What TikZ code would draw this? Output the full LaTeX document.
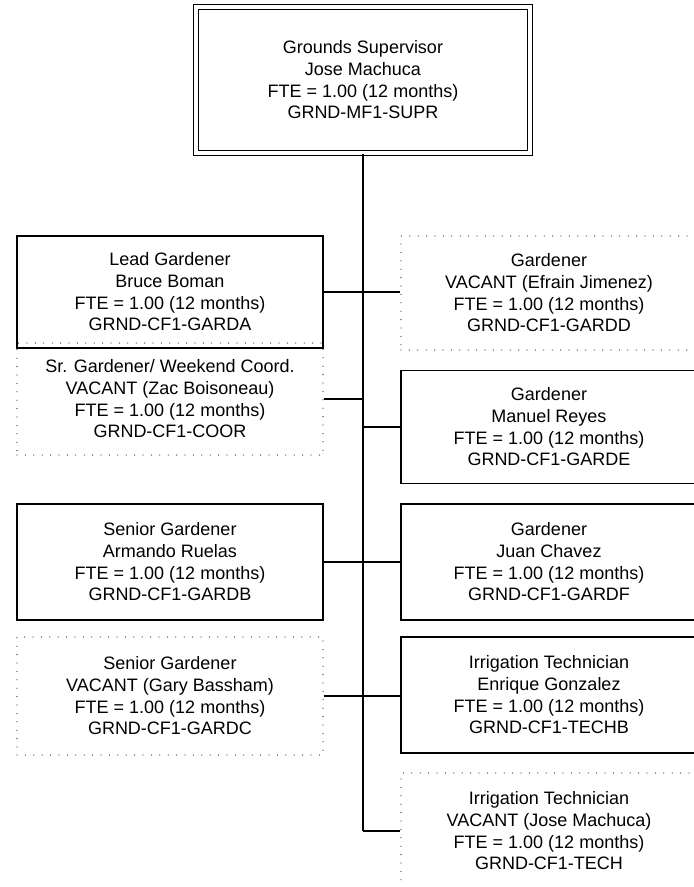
\documentclass[tikz,border=0pt]{standalone}
\usepackage{fontspec}
\setmainfont{Liberation Sans}
\begin{document}
\tikzset{
  txt/.style={align=center, font=\fontsize{18}{21.7}\selectfont, inner sep=0pt},
  solidbox/.style={txt, draw=black, line width=1.7pt, minimum width=#1},
  solidbox/.default=306pt,
  dotbox/.style={txt, draw=black!75, line width=1.3pt, dash pattern=on 0pt off 8.4pt, line cap=round, minimum width=#1},
  dotbox/.default=306pt,
  topbox/.style={txt, draw=black, double, line width=1.6pt, double distance=3.2pt},
  conn/.style={line width=1.5pt},
  trunk/.style={line width=2.7pt},
}
\begin{tikzpicture}[x=1pt,y=-1pt]
\clip (0,0) rectangle (694,887);
\fill[white] (0,0) rectangle (694,887);

% top
\node[topbox, minimum width=334pt, minimum height=146pt] (top) at (363,80)
  {Grounds Supervisor\\Jose Machuca\\FTE = 1.00 (12 months)\\GRND-MF1-SUPR};

% left column
\node[solidbox, minimum height=112pt] (l1) at (170,292)
  {Lead Gardener\\Bruce Boman\\FTE = 1.00 (12 months)\\GRND-CF1-GARDA};
\node[dotbox, minimum height=112pt] (l2) at (170,399)
  {Sr. Gardener/ Weekend Coord.\\VACANT (Zac Boisoneau)\\FTE = 1.00 (12 months)\\GRND-CF1-COOR};
\node[solidbox, minimum height=116pt] (l3) at (170,562)
  {Senior Gardener\\Armando Ruelas\\FTE = 1.00 (12 months)\\GRND-CF1-GARDB};
\node[dotbox, minimum height=118pt] (l4) at (170,696)
  {Senior Gardener\\VACANT (Gary Bassham)\\FTE = 1.00 (12 months)\\GRND-CF1-GARDC};

% right column
\node[dotbox=296pt, minimum height=114pt] (r1) at (549,293)
  {Gardener\\VACANT (Efrain Jimenez)\\FTE = 1.00 (12 months)\\GRND-CF1-GARDD};
\node[solidbox=296pt, minimum height=113pt] (r2) at (549,427)
  {Gardener\\Manuel Reyes\\FTE = 1.00 (12 months)\\GRND-CF1-GARDE};
\node[solidbox=296pt, minimum height=116pt] (r3) at (549,562)
  {Gardener\\Juan Chavez\\FTE = 1.00 (12 months)\\GRND-CF1-GARDF};
\node[solidbox=296pt, minimum height=116pt] (r4) at (549,695)
  {Irrigation Technician\\Enrique Gonzalez\\FTE = 1.00 (12 months)\\GRND-CF1-TECHB};
\node[dotbox=296pt, minimum height=116pt] (r5) at (549,831)
  {Irrigation Technician\\VACANT (Jose Machuca)\\FTE = 1.00 (12 months)\\GRND-CF1-TECH};

% connectors
\coordinate (tb) at (top.south);
\draw[trunk] (tb) -- (r5.west -| tb);
\draw[conn] (l1.east) -- (l1.east -| r1.west);
\draw[conn] (l2.east) -- (l2.east -| tb);
\draw[conn] (r2.west) -- (r2.west -| tb);
\draw[conn] (l3.east) -- (r3.west);
\draw[conn] (l4.east) -- (l4.east -| r4.west);
\draw[conn] (r5.west) -- (r5.west -| tb);
\end{tikzpicture}
\end{document}
